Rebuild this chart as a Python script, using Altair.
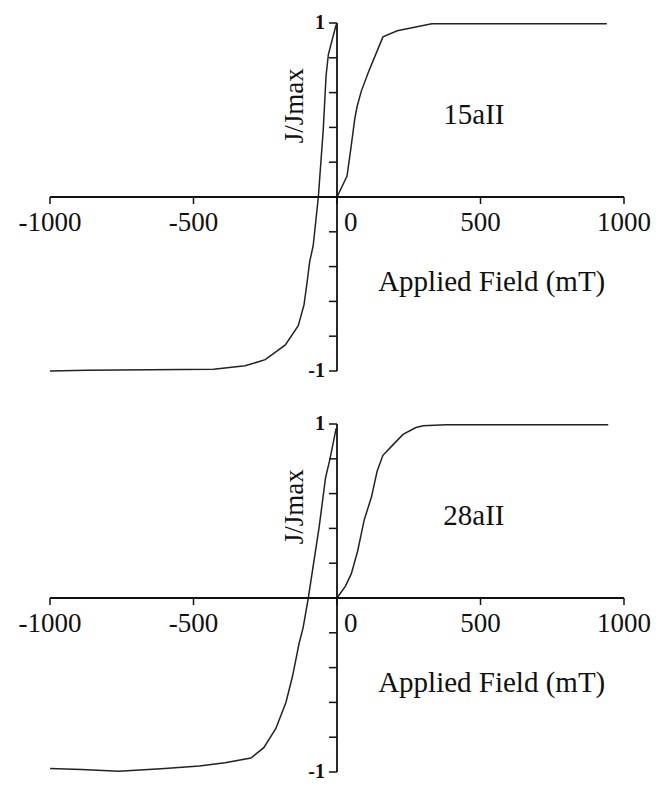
import altair as alt
import pandas as pd

# ---------------- data ----------------
x_ticks = [-1000, -500, 0, 500, 1000]
x_tick_labels = ["-1000", "-500", "0", "500", "1000"]
y_ticks = [-1.0, -0.8, -0.6, -0.4, -0.2, 0.0, 0.2, 0.4, 0.6, 0.8, 1.0]
y_tick_labels = ["-1", "", "", "", "", "", "", "", "", "", "1"]

# sample 15aII
s15_desc_field = [-1000, -870, -430, -320, -250, -180, -135, -115, -105, -95, -83, -65, -48, -38, -30, -3]
s15_desc_j = [-1.0, -0.995, -0.99, -0.97, -0.935, -0.85, -0.74, -0.62, -0.50, -0.37, -0.28, 0.0, 0.385, 0.70, 0.82, 0.99]
s15_asc_field = [0, 35, 50, 62, 70, 85, 110, 140, 160, 210, 270, 330, 940]
s15_asc_j = [0.0, 0.12, 0.30, 0.45, 0.52, 0.61, 0.72, 0.84, 0.92, 0.955, 0.975, 0.995, 0.995]

# sample 28aII
s28_desc_field = [-1000, -890, -760, -600, -480, -390, -300, -255, -213, -178, -155, -132, -118, -100, -62, -40, -25, -3]
s28_desc_j = [-0.98, -0.985, -0.995, -0.98, -0.965, -0.947, -0.92, -0.86, -0.75, -0.60, -0.45, -0.26, -0.17, 0.0, 0.41, 0.69, 0.795, 0.975]
s28_asc_field = [0, 30, 50, 72, 95, 120, 140, 160, 195, 230, 275, 300, 380, 945]
s28_asc_j = [0.0, 0.07, 0.14, 0.27, 0.45, 0.58, 0.73, 0.82, 0.88, 0.94, 0.98, 0.99, 0.995, 0.995]

samples = ["15aII", "28aII"]
y_title = "J/Jmax"
x_title = "Applied Field (mT)"

FONT = "Liberation Serif"
INK = "#111111"
W, H = 574, 348


def panel(desc_x, desc_y, asc_x, asc_y, sample):
    curve_df = pd.DataFrame({
        "field": desc_x + asc_x,
        "j": desc_y + asc_y,
        "branch": ["desc"] * len(desc_x) + ["asc"] * len(asc_x),
        "idx": list(range(len(desc_x))) + list(range(len(asc_x))),
    })
    xt = pd.DataFrame({"v": x_ticks, "label": x_tick_labels})
    yt = pd.DataFrame({"v": y_ticks, "label": y_tick_labels})
    xs = alt.Scale(domain=[-1000, 1000], nice=False, zero=False)
    ys = alt.Scale(domain=[-1, 1], nice=False, zero=False)

    curve = alt.Chart(curve_df).mark_line(color="#222222", strokeWidth=1.5).encode(
        x=alt.X("field:Q", scale=xs, axis=None),
        y=alt.Y("j:Q", scale=ys, axis=None),
        detail="branch:N",
        order="idx:Q",
    )
    x_line = alt.Chart(xt).mark_rule(color=INK, strokeWidth=1.8).encode(
        x=alt.X("min(v):Q", scale=xs, axis=None),
        x2="max(v):Q",
        y=alt.Y(datum=0, scale=ys, axis=None),
    )
    y_line = alt.Chart(yt).mark_rule(color=INK, strokeWidth=1.8).encode(
        y=alt.Y("min(v):Q", scale=ys, axis=None),
        y2="max(v):Q",
        x=alt.X(datum=0, scale=xs, axis=None),
    )
    x_tk = alt.Chart(xt).mark_rule(color=INK, strokeWidth=1.5, y2Offset=7).encode(
        x=alt.X("v:Q", scale=xs, axis=None),
        y=alt.Y(datum=0, scale=ys, axis=None),
        y2=alt.Y2(datum=0),
    )
    y_tk = alt.Chart(yt).mark_rule(color=INK, strokeWidth=1.5, x2Offset=-8).encode(
        y=alt.Y("v:Q", scale=ys, axis=None),
        x=alt.X(datum=0, scale=xs, axis=None),
        x2=alt.X2(datum=0),
    )
    x_lab = alt.Chart(xt).transform_filter("datum.v != 0").mark_text(
        font=FONT, fontSize=27, color=INK, align="center", baseline="alphabetic", dy=34
    ).encode(
        x=alt.X("v:Q", scale=xs, axis=None),
        y=alt.Y(datum=0, scale=ys, axis=None),
        text="label:N",
    )
    x_lab0 = alt.Chart(xt).transform_filter("datum.v == 0").mark_text(
        font=FONT, fontSize=27, color=INK, align="left", baseline="alphabetic", dy=34, dx=7
    ).encode(
        x=alt.X("v:Q", scale=xs, axis=None),
        y=alt.Y(datum=0, scale=ys, axis=None),
        text="label:N",
    )
    y_lab = alt.Chart(yt).transform_filter("datum.label != ''").mark_text(
        font=FONT, fontSize=20, fontWeight="bold", color=INK, align="right", baseline="middle", dx=-12
    ).encode(
        y=alt.Y("v:Q", scale=ys, axis=None),
        x=alt.X(datum=0, scale=xs, axis=None),
        text="label:N",
    )
    ann_df = pd.DataFrame({"t": [sample]})
    sample_lab = alt.Chart(ann_df).mark_text(
        font=FONT, fontSize=29, color=INK, align="center", baseline="middle"
    ).encode(
        x=alt.X(datum=477, scale=xs, axis=None),
        y=alt.Y(datum=0.47, scale=ys, axis=None),
        text="t:N",
    )
    ytitle = alt.Chart(pd.DataFrame({"t": [y_title]})).mark_text(
        font=FONT, fontSize=27, color=INK, align="center", baseline="middle", angle=270
    ).encode(
        x=alt.X(datum=-145, scale=xs, axis=None),
        y=alt.Y(datum=0.525, scale=ys, axis=None),
        text="t:N",
    )
    xtitle = alt.Chart(pd.DataFrame({"t": [x_title]})).mark_text(
        font=FONT, fontSize=29, color=INK, align="center", baseline="alphabetic"
    ).encode(
        x=alt.X(datum=539, scale=xs, axis=None),
        y=alt.Y(datum=-0.54, scale=ys, axis=None),
        text="t:N",
    )
    return alt.layer(
        curve, x_line, y_line, x_tk, y_tk, x_lab, x_lab0, y_lab, sample_lab, ytitle, xtitle
    ).properties(width=W, height=H)


top = panel(s15_desc_field, s15_desc_j, s15_asc_field, s15_asc_j, samples[0])
bottom = panel(s28_desc_field, s28_desc_j, s28_asc_field, s28_asc_j, samples[1])

chart = alt.vconcat(top, bottom, spacing=53, bounds="flush").properties(
    padding={"left": 10, "top": 5, "right": 1, "bottom": 2},
    background="white",
).configure_view(stroke=None)

chart.save("out.html", embed_options={"renderer": "svg", "actions": False})
